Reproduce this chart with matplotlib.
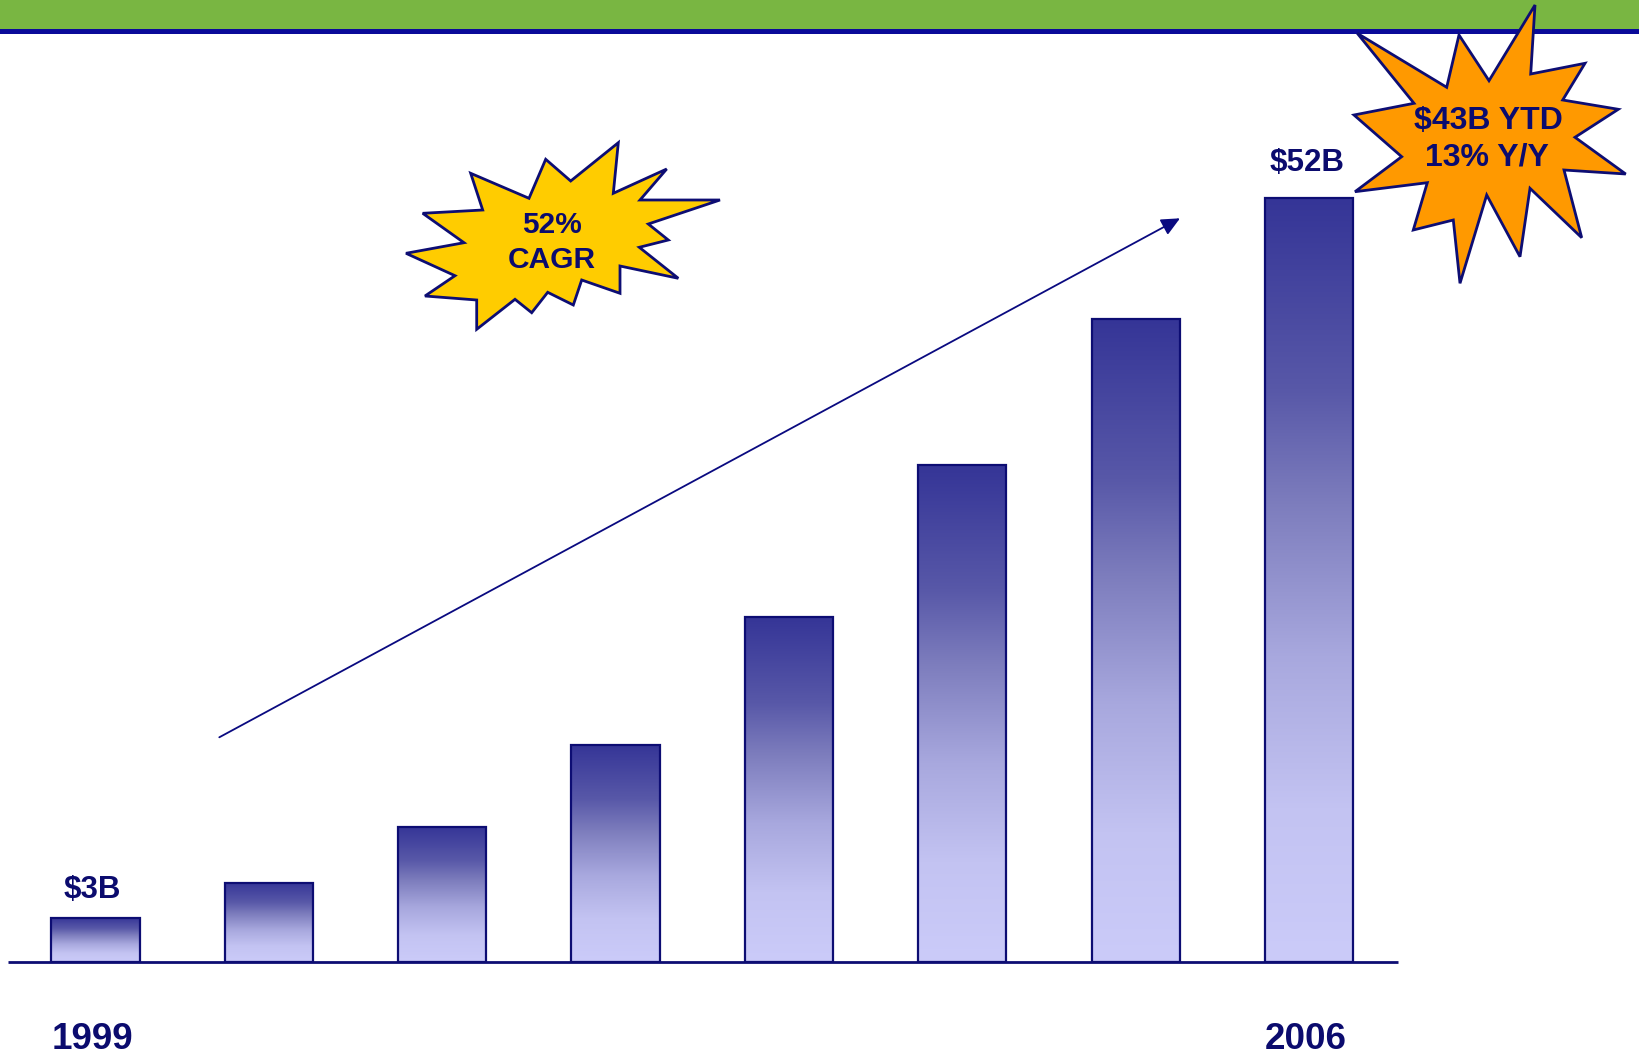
import numpy as np
import matplotlib
matplotlib.use("Agg")
import matplotlib.pyplot as plt
from matplotlib.colors import LinearSegmentedColormap
from matplotlib.patches import Polygon, Rectangle, FancyArrowPatch

# Revenue by year, $B (1999 .. 2006)
years = ["1999", "2000", "2001", "2002", "2003", "2004", "2005", "2006"]
revenue = [3, 5.4, 9.2, 14.8, 23.5, 33.8, 43.8, 52]
value_labels = {0: "$3B", 7: "$52B"}
year_labels = {0: "1999", 7: "2006"}

NAVY = "#0b0b6e"
EDGE = "#0d0d73"
W, H = 1639, 1056

plt.rcParams["font.family"] = ["Liberation Sans", "DejaVu Sans"]
plt.rcParams["font.weight"] = "bold"

fig = plt.figure(figsize=(W / 100, H / 100), dpi=100)
fig.patch.set_facecolor("white")

# ── bar axes: baseline sits at pixel row 962 ──
base_px = 962
px_per_unit = 14.69
x0_px, step_px = 95.5, 173.34
bottom = (H - base_px) / H
ax = fig.add_axes([0, bottom, 1, 1 - bottom])
ax.set_axis_off()
xlim = (-x0_px / step_px, (W - x0_px) / step_px)
ylim = (0, base_px / px_per_unit)

grad_cmap = LinearSegmentedColormap.from_list(
    "bar_grad",
    [(0.0, "#353597"), (0.25, "#5858a8"), (0.4, "#7d7dbd"),
     (0.6, "#a8a8de"), (0.8, "#c3c3f2"), (1.0, "#cbcbf9")])
grad = np.linspace(0, 1, 256).reshape(-1, 1)

xs = np.arange(len(revenue))
bar_w = 0.508
for x, v in zip(xs, revenue):
    ax.imshow(grad, extent=[x - bar_w / 2, x + bar_w / 2, 0, v], cmap=grad_cmap,
              aspect="auto", origin="upper", interpolation="bilinear", zorder=2)
ax.bar(xs, revenue, width=bar_w, facecolor="none", edgecolor=EDGE,
       linewidth=1.6, zorder=3)
ax.plot([xs[0] - 0.505, xs[-1] + 0.515], [0, 0], color=EDGE, linewidth=2,
        solid_capstyle="butt", zorder=4, clip_on=False)
ax.set_xlim(*xlim)
ax.set_ylim(*ylim)

label_offsets = {0: 20, 7: 25.5}
for i, txt in value_labels.items():
    ax.annotate(txt, xy=(xs[i], revenue[i]), xytext=(-2 if i == 0 else -1, label_offsets[i]),
                textcoords="offset points", ha="center", va="center",
                fontsize=22.5, fontweight="bold", color=NAVY)
for i, txt in year_labels.items():
    ax.annotate(txt, xy=(xs[i], 0), xytext=(-2 if i == 0 else -2.5, -56),
                textcoords="offset points", ha="center", va="center",
                fontsize=26.5, fontweight="bold", color=NAVY, annotation_clip=False)

# ── overlay in pixel coordinates: header band, trend arrow, starbursts ──
ov = fig.add_axes([0, 0, 1, 1], zorder=5)
ov.set_xlim(0, W)
ov.set_ylim(H, 0)
ov.set_axis_off()
ov.patch.set_alpha(0)

ov.add_patch(Rectangle((0, 0), W, 29, facecolor="#79b642", edgecolor="none"))
ov.add_patch(Rectangle((0, 29), W, 5, facecolor="#0a0a99", edgecolor="none"))

ov.add_patch(FancyArrowPatch((219.3, 737.3), (1180, 218.3),
                             arrowstyle="-|>,head_length=0.75,head_width=0.35",
                             mutation_scale=15, color="#0a0a80", linewidth=1.3,
                             shrinkA=0, shrinkB=0))

cagr_star = [(618.3, 142.7), (613.3, 193.3), (666.7, 169), (640, 200), (720, 200),
             (648.3, 224), (668.3, 240), (639.3, 247.3), (678.3, 278.3), (620, 266),
             (620, 293.3), (581.7, 280), (573.3, 305), (547.7, 292.3), (531.7, 312.7),
             (515, 299.3), (476.7, 329.3), (476.7, 300), (425, 296), (455, 275.7),
             (406, 253.3), (464, 242.7), (422.7, 213.3), (482.7, 210), (470.7, 173.3),
             (529, 198.3), (545.7, 159.3), (570.7, 181)]
ytd_star = [(1535, 5), (1530.7, 74), (1585, 63.3), (1562.7, 100), (1618.3, 109.3),
            (1575, 137.3), (1625.7, 174), (1564, 170), (1581.7, 237.7), (1530, 188.3),
            (1520, 256.7), (1486.7, 195), (1460, 283.3), (1453.3, 220), (1413.3, 230),
            (1427.3, 182.7), (1355, 191.7), (1401.7, 156.7), (1354, 115), (1414, 103.3),
            (1357.3, 33.3), (1446.7, 87.3), (1459, 35), (1489, 80.7)]

ov.add_patch(Polygon(cagr_star, closed=True, facecolor="#ffcc00", edgecolor=EDGE,
                     linewidth=2, joinstyle="miter"))
ov.add_patch(Polygon(ytd_star, closed=True, facecolor="#ff9900", edgecolor=EDGE,
                     linewidth=2, joinstyle="miter"))

ov.text(551.7, 225, "52%", ha="center", va="center", fontsize=21.5,
        fontweight="bold", color=NAVY)
ov.text(551.7, 260, "CAGR", ha="center", va="center", fontsize=21.5,
        fontweight="bold", color=NAVY)
ov.text(1488.3, 121, "$43B YTD", ha="center", va="center", fontsize=23,
        fontweight="bold", color=NAVY)
ov.text(1486.7, 158, "13% Y/Y", ha="center", va="center", fontsize=23,
        fontweight="bold", color=NAVY)

fig.savefig("out.png", dpi=100)
